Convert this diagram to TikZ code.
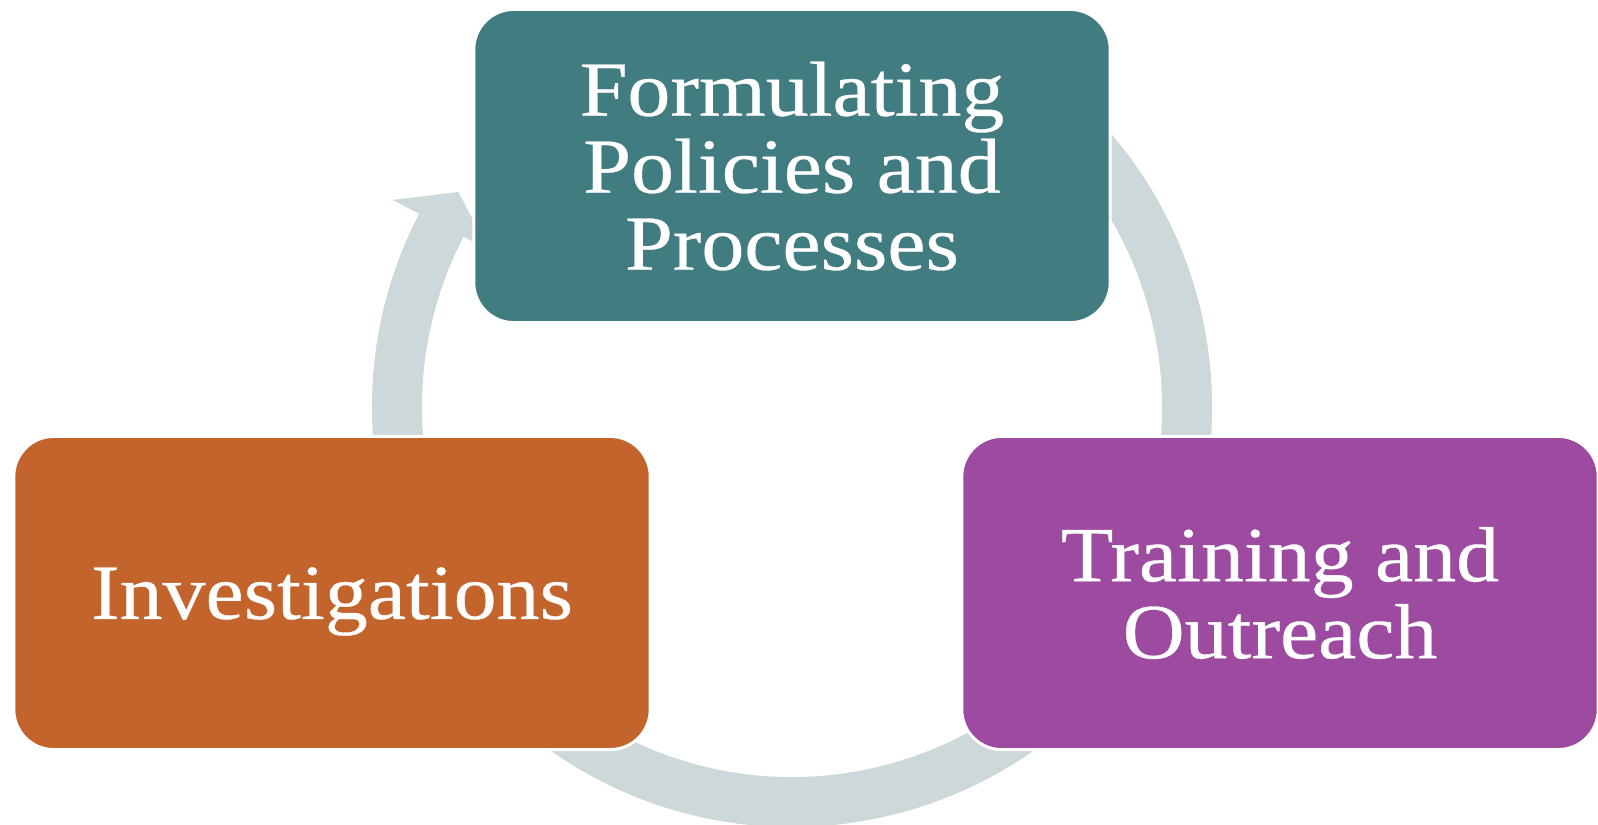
\documentclass[tikz,border=0pt]{standalone}
\usepackage{fontspec}
\setmainfont{Liberation Serif}[FakeStretch=1.1, FakeBold=0.4]
\usepackage{tikz}
\usetikzlibrary{calc}

\definecolor{policyteal}{HTML}{417C81}
\definecolor{investorange}{HTML}{C4642D}
\definecolor{trainpurple}{HTML}{9C4BA0}
\definecolor{cyclegrey}{HTML}{CDD8DB}

\begin{document}
\begin{tikzpicture}
[x=0.01cm, y=0.01cm,
 cyclebox/.style={draw=white, line width=0.3mm, rounded corners=0.4cm,
   minimum width=6.36cm, minimum height=3.13cm, text=white, align=center,
   font=\fontsize{22.2}{21.9}\selectfont, inner sep=0pt}]
\useasboundingbox (0,0) rectangle (1598,-825);
% circular arrow behind the boxes
\coordinate (ctr) at (792,-407);
\draw[cyclegrey, line width=0.5cm] ($(ctr)+(60:395)$) arc[start angle=60, end angle=-207.4, radius=395];
\fill[cyclegrey] ($(ctr)+(147.2:397)$) -- ($(ctr)+(152.6:450)$) -- ($(ctr)+(152.6:342)$) -- cycle;

% the three boxes
\node[cyclebox, fill=policyteal] (policies) at (792,-166) {Formulating\\Policies and\\Processes};
\node[cyclebox, fill=trainpurple] (training) at (1280,-593) {Training and\\Outreach};
\node[cyclebox, fill=investorange, text depth=0pt] (investigations) at (332,-593) {Investigations};
\end{tikzpicture}
\end{document}
